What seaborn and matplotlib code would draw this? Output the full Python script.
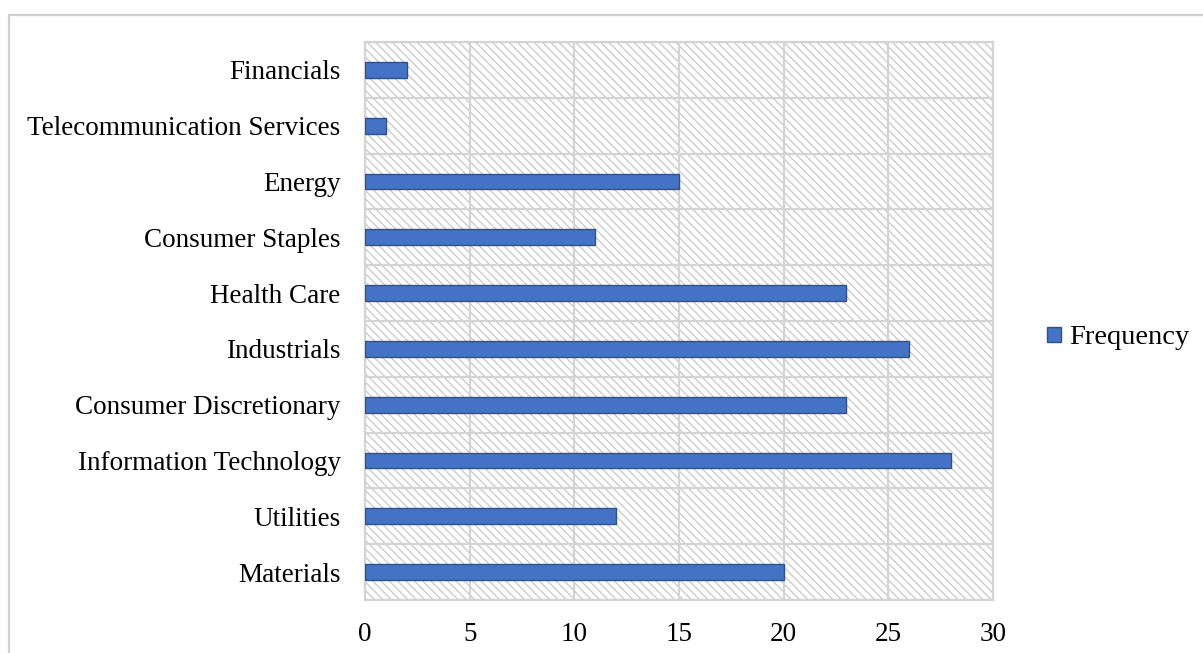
import matplotlib
matplotlib.use("Agg")
import matplotlib.pyplot as plt
from matplotlib.patches import Rectangle, Patch
import seaborn as sns
import pandas as pd
import numpy as np

# Sector counts, listed top to bottom as drawn
sectors = ["Financials", "Telecommunication Services", "Energy", "Consumer Staples",
           "Health Care", "Industrials", "Consumer Discretionary",
           "Information Technology", "Utilities", "Materials"]
frequency = [2, 1, 15, 11, 23, 26, 23, 28, 12, 20]
x_ticks = [0, 5, 10, 15, 20, 25, 30]
series_name = "Frequency"

df = pd.DataFrame({"Sector": sectors, "Frequency": frequency})

sns.set_theme(style="white")
plt.rcParams["font.family"] = ["Liberation Serif", "DejaVu Serif"]
plt.rcParams["hatch.linewidth"] = 1.0
plt.rcParams["text.color"] = "black"

W, H = 1203, 653
fig = plt.figure(figsize=(W / 100, H / 100), dpi=100)
ax = fig.add_axes([365 / W, 1 - 600 / H, (993 - 365) / W, (600 - 42) / H])

grid_col = "#d4d4d4"
hatch_col = "#cdcdcd"
bar_col = "#4472C4"
edge_col = "#2F528F"
fs = 19.5

# fine diagonal hatching behind the plot
back_hatch = chr(92) * 4
ax.set_facecolor("white")
ax.add_patch(Rectangle((0, 0), 1, 1, transform=ax.transAxes, facecolor="white",
                       edgecolor=hatch_col, linewidth=0, hatch=back_hatch, zorder=0))

sns.barplot(data=df, x="Frequency", y="Sector", order=sectors, orient="h",
            color=bar_col, saturation=1, width=0.28, edgecolor=edge_col,
            linewidth=1.0, ax=ax, zorder=3)

ax.set_xlim(0, 30)
ax.set_ylim(len(sectors) - 0.5, -0.5)
ax.set_xticks(x_ticks)
ax.set_xticklabels([str(t) for t in x_ticks])
ax.set_yticks(np.arange(len(sectors)))
ax.set_yticklabels(sectors)
ax.set_xlabel("")
ax.set_ylabel("")

ax.grid(False)
for t in x_ticks:
    ax.axvline(t, color=grid_col, lw=1.6, zorder=1)
for b in np.arange(len(sectors) + 1) - 0.5:
    ax.axhline(b, color=grid_col, lw=1.6, zorder=1)

for s in ax.spines.values():
    s.set_color(grid_col)
    s.set_linewidth(1.6)

ax.tick_params(axis="both", which="both", length=0)
ax.tick_params(axis="y", pad=17.5, labelsize=fs, labelcolor="black")
ax.tick_params(axis="x", pad=16, labelsize=fs, labelcolor="black")

handle = Patch(facecolor=bar_col, edgecolor=edge_col, linewidth=1.0)
fig.legend([handle], [series_name], loc="center left",
           bbox_to_anchor=(1021 / W, 1 - 338 / H), frameon=False,
           fontsize=20.5, handlelength=0.5, handleheight=0.45,
           handletextpad=0.3, labelcolor="black")

# outer chart border
fig.add_artist(Rectangle((8.5 / W, -0.05), 1.2, 1 - 14.5 / H + 0.05,
                         transform=fig.transFigure, facecolor="none",
                         edgecolor="#d0d0d0", lw=1.6))

fig.savefig("out.png", dpi=100)
